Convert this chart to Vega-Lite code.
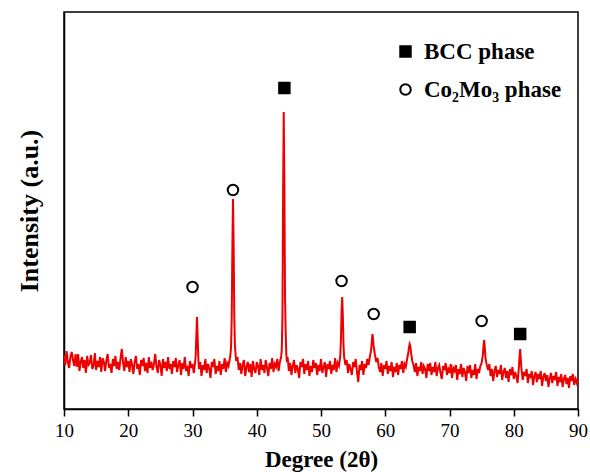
{
  "$schema": "https://vega.github.io/schema/vega-lite/v6.json",
  "width": 514,
  "height": 397,
  "autosize": {"type": "none"},
  "padding": {"left": 64, "top": 12, "right": 12, "bottom": 63},
  "background": "white",
  "config": {
    "view": {"stroke": "black", "strokeWidth": 1.5},
    "font": "Liberation Serif"
  },
  "datasets": {
    "xrd": [
      {"deg":10.0,"int":54},{"deg":10.2,"int":44},{"deg":10.4,"int":58},{"deg":10.6,"int":47},{"deg":10.8,"int":41},{"deg":11.0,"int":52},{"deg":11.2,"int":57},{"deg":11.4,"int":49},{"deg":11.6,"int":43},{"deg":11.8,"int":55},
      {"deg":12.0,"int":42},{"deg":12.2,"int":55},{"deg":12.4,"int":38},{"deg":12.6,"int":47},{"deg":12.8,"int":52},{"deg":13.0,"int":41},{"deg":13.2,"int":49},{"deg":13.4,"int":36},{"deg":13.6,"int":53},{"deg":13.8,"int":44},
      {"deg":14.0,"int":46},{"deg":14.2,"int":54},{"deg":14.4,"int":40},{"deg":14.6,"int":43},{"deg":14.8,"int":56},{"deg":15.0,"int":39},{"deg":15.2,"int":48},{"deg":15.4,"int":42},{"deg":15.6,"int":52},{"deg":15.8,"int":37},
      {"deg":16.0,"int":51},{"deg":16.2,"int":47},{"deg":16.4,"int":38},{"deg":16.6,"int":49},{"deg":16.8,"int":55},{"deg":17.0,"int":41},{"deg":17.2,"int":45},{"deg":17.4,"int":36},{"deg":17.6,"int":50},{"deg":17.8,"int":43},
      {"deg":18.0,"int":53},{"deg":18.2,"int":40},{"deg":18.4,"int":47},{"deg":18.6,"int":39},{"deg":18.8,"int":51},{"deg":19.0,"int":60},{"deg":19.2,"int":46},{"deg":19.4,"int":38},{"deg":19.6,"int":52},{"deg":19.8,"int":42},
      {"deg":20.0,"int":48},{"deg":20.2,"int":37},{"deg":20.4,"int":50},{"deg":20.6,"int":44},{"deg":20.8,"int":35},{"deg":21.0,"int":47},{"deg":21.2,"int":53},{"deg":21.4,"int":40},{"deg":21.6,"int":45},{"deg":21.8,"int":34},
      {"deg":22.0,"int":49},{"deg":22.2,"int":43},{"deg":22.4,"int":51},{"deg":22.6,"int":38},{"deg":22.8,"int":46},{"deg":23.0,"int":36},{"deg":23.2,"int":52},{"deg":23.4,"int":41},{"deg":23.6,"int":47},{"deg":23.8,"int":39},
      {"deg":24.0,"int":45},{"deg":24.2,"int":55},{"deg":24.4,"int":42},{"deg":24.6,"int":36},{"deg":24.8,"int":49},{"deg":25.0,"int":44},{"deg":25.2,"int":33},{"deg":25.4,"int":50},{"deg":25.6,"int":41},{"deg":25.8,"int":47},
      {"deg":26.0,"int":38},{"deg":26.2,"int":52},{"deg":26.4,"int":40},{"deg":26.6,"int":45},{"deg":26.8,"int":35},{"deg":27.0,"int":48},{"deg":27.2,"int":42},{"deg":27.4,"int":51},{"deg":27.6,"int":37},{"deg":27.8,"int":44},
      {"deg":28.0,"int":49},{"deg":28.2,"int":34},{"deg":28.4,"int":46},{"deg":28.6,"int":40},{"deg":28.8,"int":52},{"deg":29.0,"int":38},{"deg":29.2,"int":43},{"deg":29.4,"int":33},{"deg":29.6,"int":48},{"deg":29.8,"int":41},
      {"deg":30.0,"int":45},{"deg":30.2,"int":36},{"deg":30.4,"int":46},{"deg":30.5,"int":54},{"deg":30.6,"int":74},{"deg":30.7,"int":92},{"deg":30.8,"int":72},{"deg":30.9,"int":52},{"deg":31.0,"int":40},{"deg":31.2,"int":47},
      {"deg":31.4,"int":33},{"deg":31.6,"int":44},{"deg":31.8,"int":39},{"deg":32.0,"int":50},{"deg":32.2,"int":36},{"deg":32.4,"int":45},{"deg":32.6,"int":41},{"deg":32.8,"int":31},{"deg":33.0,"int":47},{"deg":33.2,"int":42},
      {"deg":33.4,"int":50},{"deg":33.6,"int":35},{"deg":33.8,"int":43},{"deg":34.0,"int":38},{"deg":34.2,"int":48},{"deg":34.4,"int":34},{"deg":34.6,"int":45},{"deg":34.8,"int":40},{"deg":35.0,"int":51},{"deg":35.2,"int":37},
      {"deg":35.4,"int":46},{"deg":35.6,"int":43},{"deg":35.8,"int":50},{"deg":35.9,"int":54},{"deg":36.0,"int":62},{"deg":36.1,"int":90},{"deg":36.2,"int":156},{"deg":36.3,"int":210},{"deg":36.4,"int":166},{"deg":36.5,"int":94},
      {"deg":36.6,"int":64},{"deg":36.7,"int":55},{"deg":36.8,"int":48},{"deg":37.0,"int":52},{"deg":37.2,"int":39},{"deg":37.4,"int":46},{"deg":37.6,"int":35},{"deg":37.8,"int":44},{"deg":38.0,"int":49},{"deg":38.2,"int":33},
      {"deg":38.4,"int":42},{"deg":38.6,"int":47},{"deg":38.8,"int":37},{"deg":39.0,"int":45},{"deg":39.2,"int":32},{"deg":39.4,"int":48},{"deg":39.6,"int":40},{"deg":39.8,"int":36},{"deg":40.0,"int":47},{"deg":40.2,"int":43},
      {"deg":40.4,"int":34},{"deg":40.6,"int":50},{"deg":40.8,"int":39},{"deg":41.0,"int":44},{"deg":41.2,"int":36},{"deg":41.4,"int":49},{"deg":41.6,"int":41},{"deg":41.8,"int":33},{"deg":42.0,"int":46},{"deg":42.2,"int":40},
      {"deg":42.4,"int":51},{"deg":42.6,"int":37},{"deg":42.8,"int":45},{"deg":43.0,"int":42},{"deg":43.2,"int":50},{"deg":43.4,"int":38},{"deg":43.6,"int":47},{"deg":43.8,"int":52},{"deg":43.9,"int":60},{"deg":44.0,"int":92},
      {"deg":44.1,"int":215},{"deg":44.2,"int":297},{"deg":44.3,"int":226},{"deg":44.4,"int":112},{"deg":44.5,"int":78},{"deg":44.6,"int":55},{"deg":44.7,"int":47},{"deg":44.8,"int":52},{"deg":45.0,"int":38},{"deg":45.2,"int":46},
      {"deg":45.4,"int":34},{"deg":45.6,"int":43},{"deg":45.8,"int":49},{"deg":46.0,"int":36},{"deg":46.2,"int":44},{"deg":46.4,"int":40},{"deg":46.6,"int":31},{"deg":46.8,"int":47},{"deg":47.0,"int":42},{"deg":47.2,"int":50},
      {"deg":47.4,"int":35},{"deg":47.6,"int":45},{"deg":47.8,"int":39},{"deg":48.0,"int":48},{"deg":48.2,"int":33},{"deg":48.4,"int":43},{"deg":48.6,"int":37},{"deg":48.8,"int":49},{"deg":49.0,"int":41},{"deg":49.2,"int":46},
      {"deg":49.4,"int":34},{"deg":49.6,"int":44},{"deg":49.8,"int":38},{"deg":50.0,"int":50},{"deg":50.2,"int":36},{"deg":50.4,"int":42},{"deg":50.6,"int":47},{"deg":50.8,"int":32},{"deg":51.0,"int":45},{"deg":51.2,"int":40},
      {"deg":51.4,"int":48},{"deg":51.6,"int":35},{"deg":51.8,"int":44},{"deg":52.0,"int":39},{"deg":52.2,"int":51},{"deg":52.4,"int":37},{"deg":52.6,"int":46},{"deg":52.8,"int":43},{"deg":53.0,"int":53},{"deg":53.1,"int":69},
      {"deg":53.2,"int":98},{"deg":53.3,"int":112},{"deg":53.4,"int":93},{"deg":53.5,"int":64},{"deg":53.6,"int":52},{"deg":53.8,"int":44},{"deg":54.0,"int":49},{"deg":54.2,"int":36},{"deg":54.4,"int":45},{"deg":54.6,"int":40},
      {"deg":54.8,"int":34},{"deg":55.0,"int":47},{"deg":55.2,"int":42},{"deg":55.4,"int":50},{"deg":55.6,"int":37},{"deg":55.8,"int":27},{"deg":56.0,"int":44},{"deg":56.2,"int":39},{"deg":56.4,"int":48},{"deg":56.6,"int":34},
      {"deg":56.8,"int":45},{"deg":57.0,"int":41},{"deg":57.2,"int":50},{"deg":57.4,"int":44},{"deg":57.6,"int":52},{"deg":57.8,"int":59},{"deg":57.9,"int":67},{"deg":58.0,"int":75},{"deg":58.1,"int":70},{"deg":58.2,"int":62},
      {"deg":58.4,"int":54},{"deg":58.6,"int":47},{"deg":58.8,"int":51},{"deg":59.0,"int":42},{"deg":59.2,"int":37},{"deg":59.4,"int":46},{"deg":59.6,"int":33},{"deg":59.8,"int":44},{"deg":60.0,"int":40},{"deg":60.2,"int":48},
      {"deg":60.4,"int":35},{"deg":60.6,"int":43},{"deg":60.8,"int":38},{"deg":61.0,"int":47},{"deg":61.2,"int":32},{"deg":61.4,"int":42},{"deg":61.6,"int":37},{"deg":61.8,"int":46},{"deg":62.0,"int":34},{"deg":62.2,"int":44},
      {"deg":62.4,"int":40},{"deg":62.6,"int":48},{"deg":62.8,"int":36},{"deg":63.0,"int":45},{"deg":63.2,"int":42},{"deg":63.4,"int":50},{"deg":63.6,"int":57},{"deg":63.7,"int":62},{"deg":63.8,"int":65},{"deg":63.9,"int":63},
      {"deg":64.0,"int":57},{"deg":64.2,"int":48},{"deg":64.4,"int":44},{"deg":64.6,"int":37},{"deg":64.8,"int":46},{"deg":65.0,"int":33},{"deg":65.2,"int":42},{"deg":65.4,"int":38},{"deg":65.6,"int":47},{"deg":65.8,"int":35},
      {"deg":66.0,"int":43},{"deg":66.2,"int":40},{"deg":66.4,"int":31},{"deg":66.6,"int":45},{"deg":66.8,"int":38},{"deg":67.0,"int":46},{"deg":67.2,"int":34},{"deg":67.4,"int":42},{"deg":67.6,"int":37},{"deg":67.8,"int":47},
      {"deg":68.0,"int":33},{"deg":68.2,"int":41},{"deg":68.4,"int":44},{"deg":68.6,"int":36},{"deg":68.8,"int":30},{"deg":69.0,"int":43},{"deg":69.2,"int":39},{"deg":69.4,"int":46},{"deg":69.6,"int":34},{"deg":69.8,"int":40},
      {"deg":70.0,"int":36},{"deg":70.2,"int":45},{"deg":70.4,"int":31},{"deg":70.6,"int":41},{"deg":70.8,"int":38},{"deg":71.0,"int":44},{"deg":71.2,"int":29},{"deg":71.4,"int":40},{"deg":71.6,"int":35},{"deg":71.8,"int":45},
      {"deg":72.0,"int":32},{"deg":72.2,"int":41},{"deg":72.4,"int":37},{"deg":72.6,"int":28},{"deg":72.8,"int":43},{"deg":73.0,"int":36},{"deg":73.2,"int":44},{"deg":73.4,"int":31},{"deg":73.6,"int":39},{"deg":73.8,"int":34},
      {"deg":74.0,"int":45},{"deg":74.2,"int":30},{"deg":74.4,"int":40},{"deg":74.6,"int":36},{"deg":74.8,"int":43},{"deg":75.0,"int":46},{"deg":75.2,"int":54},{"deg":75.3,"int":64},{"deg":75.4,"int":69},{"deg":75.5,"int":61},
      {"deg":75.6,"int":51},{"deg":75.8,"int":44},{"deg":76.0,"int":39},{"deg":76.2,"int":45},{"deg":76.4,"int":33},{"deg":76.6,"int":40},{"deg":76.8,"int":28},{"deg":77.0,"int":38},{"deg":77.2,"int":43},{"deg":77.4,"int":32},
      {"deg":77.6,"int":39},{"deg":77.8,"int":35},{"deg":78.0,"int":44},{"deg":78.2,"int":29},{"deg":78.4,"int":37},{"deg":78.6,"int":41},{"deg":78.8,"int":31},{"deg":79.0,"int":38},{"deg":79.2,"int":27},{"deg":79.4,"int":40},
      {"deg":79.6,"int":34},{"deg":79.8,"int":42},{"deg":80.0,"int":30},{"deg":80.2,"int":37},{"deg":80.4,"int":33},{"deg":80.6,"int":26},{"deg":80.8,"int":42},{"deg":80.9,"int":52},{"deg":81.0,"int":60},{"deg":81.1,"int":49},
      {"deg":81.2,"int":40},{"deg":81.4,"int":29},{"deg":81.6,"int":37},{"deg":81.8,"int":33},{"deg":82.0,"int":40},{"deg":82.2,"int":26},{"deg":82.4,"int":35},{"deg":82.6,"int":31},{"deg":82.8,"int":38},{"deg":83.0,"int":24},
      {"deg":83.2,"int":33},{"deg":83.4,"int":37},{"deg":83.6,"int":27},{"deg":83.8,"int":35},{"deg":84.0,"int":30},{"deg":84.2,"int":38},{"deg":84.4,"int":23},{"deg":84.6,"int":32},{"deg":84.8,"int":36},{"deg":85.0,"int":28},
      {"deg":85.2,"int":34},{"deg":85.4,"int":22},{"deg":85.6,"int":31},{"deg":85.8,"int":36},{"deg":86.0,"int":26},{"deg":86.2,"int":33},{"deg":86.4,"int":29},{"deg":86.6,"int":37},{"deg":86.8,"int":23},{"deg":87.0,"int":32},
      {"deg":87.2,"int":27},{"deg":87.4,"int":35},{"deg":87.6,"int":22},{"deg":87.8,"int":30},{"deg":88.0,"int":34},{"deg":88.2,"int":25},{"deg":88.4,"int":31},{"deg":88.6,"int":21},{"deg":88.8,"int":33},{"deg":89.0,"int":28},
      {"deg":89.2,"int":35},{"deg":89.4,"int":24},{"deg":89.6,"int":30},{"deg":89.8,"int":26},{"deg":90.0,"int":32}
    ],
    "marks": [
      {"deg":30.0,"int":122,"phase":"Co₂Mo₃ phase"},
      {"deg":36.3,"int":219,"phase":"Co₂Mo₃ phase"},
      {"deg":44.3,"int":321,"phase":"BCC phase"},
      {"deg":53.2,"int":128,"phase":"Co₂Mo₃ phase"},
      {"deg":58.2,"int":95,"phase":"Co₂Mo₃ phase"},
      {"deg":63.8,"int":82,"phase":"BCC phase"},
      {"deg":75.0,"int":88,"phase":"Co₂Mo₃ phase"},
      {"deg":81.0,"int":75,"phase":"BCC phase"}
    ]
  },
  "layer": [
    {
      "data": {"name": "xrd"},
      "mark": {"type": "line", "color": "#ee0000", "strokeWidth": 2, "clip": true},
      "encoding": {
        "x": {
          "field": "deg", "type": "quantitative",
          "scale": {"domain": [10, 90], "nice": false, "zero": false},
          "axis": {
            "title": "Degree (2θ)",
            "values": [10,15,20,25,30,35,40,45,50,55,60,65,70,75,80,85,90],
            "labelExpr": "datum.value % 10 === 0 ? datum.label : ''",
            "tickSize": {"condition": {"test": "datum.value % 10 === 0", "value": 7}, "value": 4},
            "tickColor": "black", "tickWidth": 1.5,
            "domainColor": "black", "domainWidth": 1.5,
            "grid": false,
            "labelFont": "Liberation Serif", "labelFontSize": 19, "labelColor": "black", "labelPadding": 5,
            "labelFlush": false,
            "titleFont": "Liberation Serif", "titleFontSize": 23, "titleFontWeight": "bold", "titleColor": "black", "titlePadding": 8
          }
        },
        "y": {
          "field": "int", "type": "quantitative",
          "scale": {"domain": [0, 397], "nice": false},
          "axis": {
            "title": "Intensity (a.u.)",
            "ticks": false, "labels": false, "grid": false,
            "domainColor": "black", "domainWidth": 1.5,
            "titleFont": "Liberation Serif", "titleFontSize": 26, "titleFontWeight": "bold", "titleColor": "black", "titlePadding": 22
          }
        }
      }
    },
    {
      "data": {"name": "marks"},
      "mark": {"type": "point", "filled": false, "strokeWidth": 2, "size": 110, "opacity": 1},
      "encoding": {
        "x": {"field": "deg", "type": "quantitative"},
        "y": {"field": "int", "type": "quantitative"},
        "shape": {
          "field": "phase", "type": "nominal",
          "scale": {"domain": ["BCC phase", "Co₂Mo₃ phase"], "range": ["square", "circle"]},
          "legend": {
            "title": null, "orient": "none", "legendX": 330, "legendY": 28,
            "padding": 0, "labelFont": "Liberation Serif", "labelFontSize": 23, "labelFontWeight": "bold",
            "labelColor": "black", "labelOffset": 7, "rowPadding": 14, "symbolSize": 110, "symbolStrokeWidth": 2
          }
        },
        "fill": {
          "field": "phase", "type": "nominal",
          "scale": {"domain": ["BCC phase", "Co₂Mo₃ phase"], "range": ["black", "white"]},
          "legend": {
            "title": null, "orient": "none", "legendX": 330, "legendY": 28,
            "padding": 0, "labelFont": "Liberation Serif", "labelFontSize": 23, "labelFontWeight": "bold",
            "labelColor": "black", "labelOffset": 7, "rowPadding": 14, "symbolSize": 110, "symbolStrokeWidth": 2
          }
        },
        "stroke": {
          "field": "phase", "type": "nominal",
          "scale": {"domain": ["BCC phase", "Co₂Mo₃ phase"], "range": ["black", "black"]},
          "legend": {
            "title": null, "orient": "none", "legendX": 330, "legendY": 28,
            "padding": 0, "labelFont": "Liberation Serif", "labelFontSize": 23, "labelFontWeight": "bold",
            "labelColor": "black", "labelOffset": 7, "rowPadding": 14, "symbolSize": 110, "symbolStrokeWidth": 2
          }
        }
      }
    }
  ]
}
